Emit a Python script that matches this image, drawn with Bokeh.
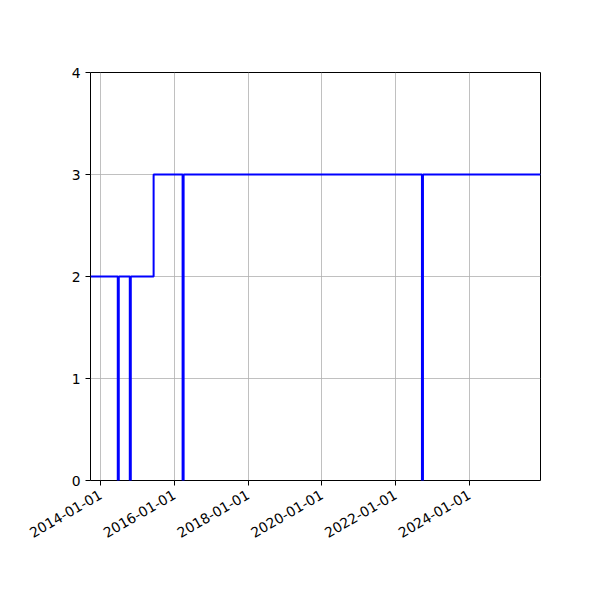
import math
import pandas as pd
from bokeh.plotting import figure
from bokeh.models import FixedTicker, DatetimeTickFormatter, Range1d
from bokeh.embed import file_html
from bokeh.resources import INLINE

# step series: value holds from each date until the next one
dates = ["2013-09-23", "2014-06-20", "2014-06-30", "2014-10-17", "2014-10-27",
         "2015-06-10", "2016-03-23", "2016-04-02", "2022-09-18", "2022-09-28",
         "2025-12-05"]
values = [2, 0, 2, 0, 2, 3, 0, 3, 0, 3, 3]
tick_dates = ["2014-01-01", "2016-01-01", "2018-01-01", "2020-01-01",
              "2022-01-01", "2024-01-01"]
y_ticks = [0, 1, 2, 3, 4]

x = pd.to_datetime(dates)
ticks_ms = [pd.Timestamp(d).value // 10**6 for d in tick_dates]

p = figure(x_axis_type="datetime", width=584, height=584,
           frame_width=450, frame_height=408,
           min_border_left=90, min_border_right=44,
           min_border_top=72, min_border_bottom=104,
           output_backend="svg", toolbar_location=None,
           x_range=Range1d(x[0], x[-1]), y_range=Range1d(0, 4))

p.step(x, values, mode="after", line_color="blue", line_width=2)

p.outline_line_color = "black"
p.outline_line_width = 1
p.outline_line_alpha = 1

for ax in (p.xaxis, p.yaxis):
    ax.axis_line_color = None
    ax.major_tick_in = 0
    ax.major_tick_out = 5
    ax.minor_tick_line_color = None
    ax.major_label_text_font = "DejaVu Sans"
    ax.major_label_text_font_size = "13.9px"
    ax.major_label_text_color = "black"

p.xaxis.ticker = FixedTicker(ticks=ticks_ms)
p.xaxis.formatter = DatetimeTickFormatter(
    days="%Y-%m-%d", months="%Y-%m-%d", years="%Y-%m-%d",
    hours="%Y-%m-%d", minutes="%Y-%m-%d", seconds="%Y-%m-%d",
    milliseconds="%Y-%m-%d", microseconds="%Y-%m-%d")
p.xaxis.major_label_orientation = math.pi / 6
p.xaxis.major_label_standoff = 8
p.yaxis.ticker = FixedTicker(ticks=y_ticks)

p.xgrid.ticker = FixedTicker(ticks=ticks_ms)
for g in (p.xgrid, p.ygrid):
    g.grid_line_color = "#b0b0b0"
    g.grid_line_width = 0.8

open("out.html", "w").write(file_html(p, INLINE))
